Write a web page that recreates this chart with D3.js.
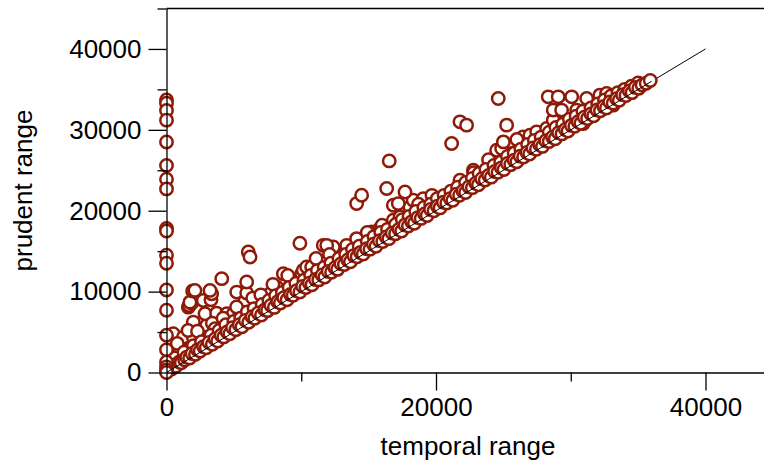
<!DOCTYPE html>
<html>
<head>
<meta charset="utf-8">
<script src="https://cdn.jsdelivr.net/npm/d3@7"></script>
<style>
  body { margin: 0; background: #fff; }
  svg { display: block; }
</style>
</head>
<body>
<div class="chart"></div>
<script>
// prudent range of the records whose temporal range is 0
const zeroTemporal = [33700, 33300, 32400, 31200, 28500, 25600, 23900, 22700, 17800, 17500,
    14500, 13500, 10200, 7700, 4600, 2800, 1300, 700, 300, 0]

// [temporal, prudent] close to the 1:1 line
const lineBand = [
    [150,250],[380,450],[520,900],[700,760],[950,1300],[1100,1200],[1350,1550],[1500,1900],[1720,1800],[1900,2350],
    [2150,2250],[2300,2800],[2500,2650],[2750,3200],[2950,3050],[3150,3700],[3400,3500],[3600,4150],[3800,3900],[4050,4600],
    [4250,4400],[4500,5000],[4700,4780],[4900,5550],[5150,5300],[5400,5900],[5600,5650],[5850,6450],[6100,6200],[6350,6900],
    [6550,6700],[6800,7350],[7050,7100],[7300,7750],[7500,7650],[7750,8300],[8000,8050],[8250,8750],[8450,8600],[8700,9250],
    [8950,9000],[9200,9650],[9400,9550],[9650,10100],[9900,9950],[10100,10650],[10350,10500],[10600,11050],[10800,10850],[11050,11500],
    [11300,11450],[11550,12050],[11750,11800],[12000,12500],[12250,12400],[12500,12950],[12700,12750],[12950,13450],[13200,13350],[13450,13900],
    [13650,13700],[13900,14450],[14150,14300],[14400,14850],[14600,14650],[14850,15300],[15100,15250],[15350,15850],[15550,15600],[15800,16300],
    [16050,16200],[16300,16750],[16500,16550],[16750,17250],[17000,17150],[17250,17700],[17450,17500],[17700,18250],[17950,18100],[18200,18650],
    [18400,18450],[18650,19150],[18900,19050],[19150,19600],[19350,19400],[19600,20150],[19850,20000],[20100,20550],[20300,20350],[20550,21050],
    [20800,20950],[21050,21500],[21250,21300],[21500,22050],[21750,21900],[22000,22450],[22200,22250],[22450,22950],[22700,22850],[22950,23400],
    [23150,23200],[23400,23950],[23650,23800],[23900,24350],[24100,24150],[24350,24850],[24600,24750],[24850,25300],[25050,25100],[25300,25850],
    [25550,25700],[25800,26250],[26000,26050],[26250,26750],[26500,26650],[26750,27200],[26950,27000],[27200,27750],[27450,27600],[27700,28150],
    [27900,27950],[28150,28650],[28400,28550],[28650,29100],[28850,28900],[29100,29650],[29350,29500],[29600,30050],[29800,29850],[30050,30550],
    [30300,30450],[30550,31000],[30750,30800],[31000,31550],[31250,31400],[31500,31950],[31700,31750],[31950,32450],[32200,32350],[32450,32900],
    [32650,32700],[32900,33450],[33150,33300],[33400,33850],[33600,33650],[33850,34350],[34100,34250],[34350,34800],[34550,34600],[34800,35250],
    [35050,35150],[35300,35550],[35600,35750],[35900,36100]
]

// [temporal, prudent] second row just above the line
const nearBand = [
    [600,1800],[1300,2500],[2000,3300],[2600,3800],[3300,4600],[3900,5200],[4400,5900],[5000,6300],[5500,6700],[6000,7500],
    [6500,7900],[7100,8400],[7600,8900],[8100,9500],[8600,9900],[9100,10500],[9600,11000],[10200,11400],[10700,12000],[11200,12600],
    [11700,13000],[12200,13500],[12800,14100],[13300,14600],[13800,15200],[14300,15600],[14900,16200],[15400,16800],[15900,17300],[16400,17700],
    [17000,18300],[17500,18900],[18000,19300],[18500,19900],[19100,20400],[19600,20800],[20100,21500],[20600,21900],[21100,22400],[21600,22900],
    [22200,23500],[22700,24000],[23200,24600],[23700,25100],[24300,25600],[24800,26000],[25300,26700],[25800,27100],[26300,27600],[26800,28200],
    [27300,28700],[27800,29100],[28400,29700],[28900,30300],[29400,30700],[29900,31300],[30400,31700],[30900,32300],[31500,32700],[32000,33200],
    [32500,33700],[33000,34200],[33500,34600],[34000,35000],[34500,35400],[35000,35800]
]

// [temporal, prudent] in the looser band above the line
const upperBand = [
    [260,1280],[630,1890],[260,2720],[1000,2720],[1500,2720],[1000,2930],[1990,3130],[2490,3960],[500,4790],[1250,4370],
    [1990,4370],[2980,4370],[3970,5610],[4710,5610],[1990,6230],[4710,6230],[4960,6440],[2980,5820],[2860,7270],[3720,7340],
    [4470,7270],[4960,7270],[5450,7270],[5950,7270],[5700,7680],[5450,7680],[5830,7470],[6690,7680],[6940,8080],[7310,8700],
    [7680,8500],[6200,8500],[8180,8910],[7180,8910],[5830,8910],[1620,8080],[1690,8290],[1870,8580],[1740,8700],[2730,8910],
    [3300,9000],[3350,9740],[1940,10070],[2110,10150],[3230,10150],[5210,9940],[5950,9820],[7680,9740],[8670,10150],[8180,10560],
    [9160,10560],[9410,11390],[9780,11390],[5950,11180],[4100,11600],[8670,12220],[10030,12220],[10400,12420],[10150,12630],[10400,13040],
    [10770,13040],[11390,13250],[11760,13650],[12630,14270],[13000,14480],[13860,15100],[14600,15510],[12380,15510],[11630,15720],[11890,15720],
    [13370,15720],[14110,16550],[15340,16340],[15840,16750],[16340,17170],[15230,17370],[15840,17790],[16830,18820],[17330,19230],[18070,20460],
    [16830,20670],[17200,20880],[18310,21290],[19060,21500],[20290,21290],[21040,22120],[21530,22530],[22270,23360],[21780,23770],[23510,24600],
    [22770,25000],[24250,25840],[24620,26250],[25240,26650],[25610,27070],[24500,27480],[26730,27480],[24870,27690],[26230,28100],[27840,28300],
    [25000,28510],[27710,28720],[26470,29130],[26970,29340],[27470,29750],[28210,30170],[29200,30170],[30190,30790],[30930,30790],[28700,31200],
    [29700,31200],[31180,31820],[28700,32440],[29320,32440],[30440,32440],[31920,32840],[33150,33050],[32660,33260],[28330,34080],[29070,34080],
    [30070,34080],[31180,33880],[33650,34080],[32160,34290],[32660,34500],[34150,34910],[34640,35120],
    [800,3600],[1600,5200],[2300,5100],[3400,6100],[3600,5400],[4200,6700],[5200,8100],[6400,9200],[7000,9600],[7900,10900],
    [9000,12000],[11100,14100],[12100,14600],[14900,17300],[16000,18200],[18700,20800],[19700,21900],[22800,24700],[23900,26300],[26000,28800]
]

// [temporal, prudent] isolated points
const outliers = [
    [6070,14890],[6200,14270],[9900,15970],[14110,20880],[14480,21910],[16340,22740],[17700,22320],[16530,26160],[21160,28310],
    [21780,30990],[22270,30580],[25240,30580],[24620,33880]
]

const yMajor = [0, 10000, 20000, 30000, 40000]
const yMinor = [5000, 15000, 25000, 35000, 45000]
const xMajor = [0, 20000, 40000]
const xMinor = [10000, 30000]

const width = 764
const height = 463
const red = "#8e1a08"
const font = "'Liberation Sans', Arial, Helvetica, sans-serif"

const svg = d3.select(".chart").append("svg")
    .attr("width", width)
    .attr("height", height)
    .attr("viewBox", [0, 0, width, height])

const x = d3.scaleLinear().domain([0, 44340]).range([166.5, 764])
const y = d3.scaleLinear().domain([0, 45000]).range([372.5, 8.5])

// frame line along the top
svg.append("line")
    .attr("x1", x(0)).attr("x2", width)
    .attr("y1", y(45000)).attr("y2", y(45000))
    .attr("stroke", "black").attr("stroke-width", 1.3)

// 1:1 line
svg.append("line")
    .attr("x1", x(0)).attr("y1", y(0))
    .attr("x2", x(40000)).attr("y2", y(40000))
    .attr("stroke", "black").attr("stroke-width", 1)

const points = [
    ...upperBand,
    ...nearBand,
    ...lineBand,
    ...outliers,
    ...zeroTemporal.map(p => [0, p])
]

svg.append("g")
    .selectAll("circle")
    .data(points)
    .join("circle")
    .attr("cx", d => x(d[0]))
    .attr("cy", d => y(d[1]))
    .attr("r", 6.2)
    .attr("fill", "white")
    .attr("stroke", red)
    .attr("stroke-width", 2.5)

// the 1:1 line shows through the band in the reference
svg.append("line")
    .attr("x1", x(0)).attr("y1", y(0))
    .attr("x2", x(36000)).attr("y2", y(36000))
    .attr("stroke", "black").attr("stroke-width", 1)

function styleAxis(g) {
    g.attr("font-size", 26).attr("font-family", font)
    g.selectAll("line, path").attr("stroke", "black").attr("stroke-width", 1.3)
    g.selectAll("text").attr("fill", "black")
}

svg.append("g")
    .attr("transform", `translate(${x(0)},0)`)
    .call(d3.axisLeft(y).tickValues(yMinor).tickSize(9).tickSizeOuter(0).tickFormat(""))
    .call(g => g.select(".domain").remove())
    .call(styleAxis)

svg.append("g")
    .attr("transform", `translate(${x(0)},0)`)
    .call(d3.axisLeft(y).tickValues(yMajor).tickSize(18).tickSizeOuter(0).tickPadding(7).tickFormat(d3.format("d")))
    .call(styleAxis)

svg.append("g")
    .attr("transform", `translate(0,${y(0)})`)
    .call(d3.axisBottom(x).tickValues(xMinor).tickSize(9).tickSizeOuter(0).tickFormat(""))
    .call(g => g.select(".domain").remove())
    .call(styleAxis)

svg.append("g")
    .attr("transform", `translate(0,${y(0)})`)
    .call(d3.axisBottom(x).tickValues(xMajor).tickSize(18).tickSizeOuter(0).tickPadding(7).tickFormat(d3.format("d")))
    .call(styleAxis)

svg.append("text")
    .attr("x", 468)
    .attr("y", 455)
    .attr("text-anchor", "middle")
    .attr("font-size", 26)
    .attr("font-family", font)
    .text("temporal range")

svg.append("text")
    .attr("transform", `translate(32,${(y(0) + y(45000)) / 2}) rotate(-90)`)
    .attr("text-anchor", "middle")
    .attr("font-size", 26)
    .attr("font-family", font)
    .text("prudent range")
</script>
</body>
</html>
